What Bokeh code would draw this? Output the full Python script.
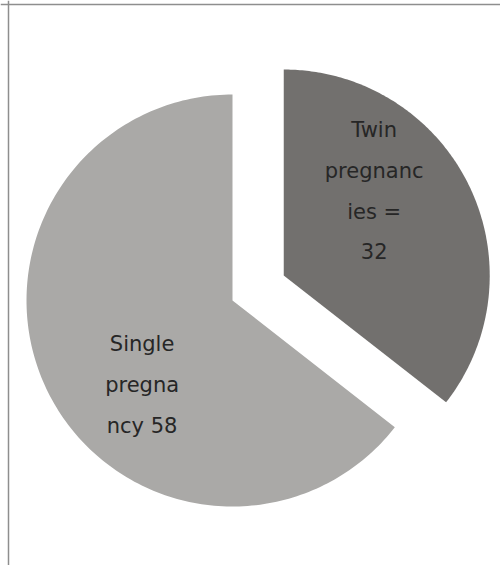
import numpy as np
from bokeh.plotting import figure
from bokeh.models import Range1d, Span, ColumnDataSource
from bokeh.core.properties import value
from bokeh.embed import file_html
from bokeh.resources import INLINE

# ---- data ----
categories = ["Twin pregnancies", "Single pregnancy"]
counts = [32, 58]
labels = ["Twin\npregnanc\nies =\n32", "Single\npregna\nncy 58"]
explode = [1, 0]

# ---- style ----
colors = ["#72706e", "#aaa9a7"]
W, H = 500, 565
cx, cy, R = 232, 265, 206
explode_dist = 57
label_frac = 0.6
label_shift = 17  # degrees anticlockwise from mid-angle

p = figure(width=W, height=H, output_backend="svg", toolbar_location=None,
           x_range=Range1d(0, W), y_range=Range1d(0, H), min_border=0)
p.axis.visible = False
p.grid.visible = False
p.outline_line_color = None
p.background_fill_color = "white"

total = float(sum(counts))
start = 0.0
xs, ys, lx, ly = [], [], [], []
for c, e in zip(counts, explode):
    span = 360.0 * c / total
    end = start + span
    mid = np.radians(start + span / 2)
    ox = cx + e * explode_dist * np.sin(mid)
    oy = cy + e * explode_dist * np.cos(mid)
    th = np.radians(np.linspace(start, end, 200))
    xs.append([ox] + list(ox + R * np.sin(th)))
    ys.append([oy] + list(oy + R * np.cos(th)))
    la = np.radians(start + span / 2 - label_shift)
    lx.append(ox + label_frac * R * np.sin(la))
    ly.append(oy + label_frac * R * np.cos(la))
    start = end

src = ColumnDataSource(dict(xs=xs, ys=ys, color=colors, lx=lx, ly=ly, text=labels))
p.patches("xs", "ys", fill_color="color", line_color=None, source=src)
p.text("lx", "ly", text="text", source=src, text_align="center", text_baseline="middle",
       text_font=value("DejaVu Sans"), text_font_size="21px", text_color="#262626",
       text_line_height=1.7)

# chart-area border (top and left edges visible in the crop)
p.add_layout(Span(location=H - 4, dimension="width", line_color="#8e8e8e", line_width=1.5))
p.add_layout(Span(location=8, dimension="height", line_color="#8e8e8e", line_width=1.5))

open("out.html", "w").write(file_html(p, INLINE))
